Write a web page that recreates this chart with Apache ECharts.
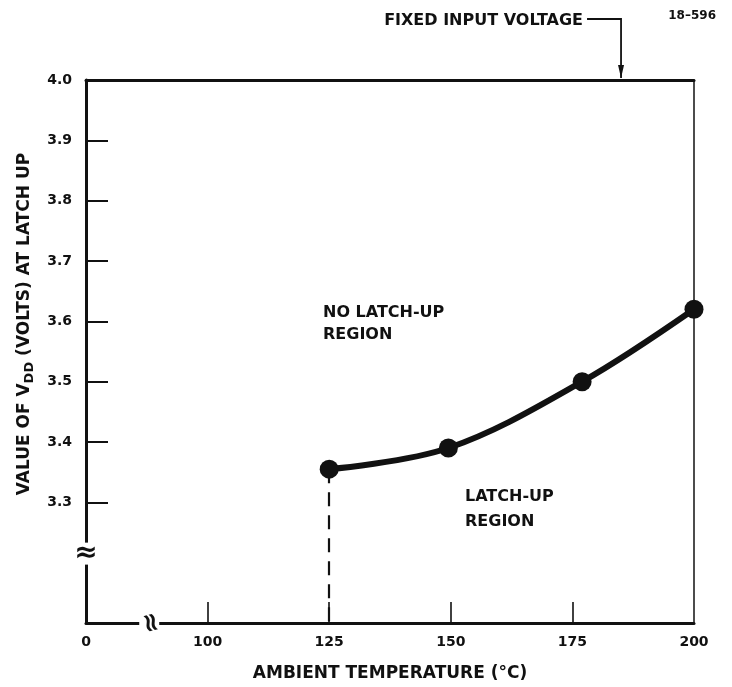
<!DOCTYPE html>
<html><head><meta charset="utf-8">
<script src="https://cdn.jsdelivr.net/npm/echarts@6/dist/echarts.min.js"></script>
<style>html,body{margin:0;padding:0;background:#fff}#c{width:732px;height:687px}</style>
</head><body><div id="c"></div>
<script>
// ---- data ----
const temperatureC = [125, 149.5, 177, 200];
const vddAtLatchUp = [3.355, 3.39, 3.50, 3.62];
const xLabelValues = [75, 100, 125, 150, 175, 200];
const xLabelTexts = ['0', '100', '125', '150', '175', '200'];
const xTickValues = [100, 125, 150, 175];
const yLabelValues = [3.3, 3.4, 3.5, 3.6, 3.7, 3.8, 3.9, 4.0];
const yTickValues = [3.3, 3.4, 3.5, 3.6, 3.7, 3.8, 3.9];
const xMin = 75, xMax = 200, yMin = 3.1, yMax = 4.0;
const yBreakAt = 3.215, xBreakAt = 88;
const fixedInputTemp = 185;

const INK = '#111';
const FONT = 'DejaVu Sans';
const F = (size, w) => (w || 'bold') + ' ' + size + 'px "' + FONT + '"';
const chart = echarts.init(document.getElementById('c'), null, {renderer: 'canvas'});
const hidden = {axisTick: {show: false}, axisLabel: {show: false}, splitLine: {show: false}};
chart.setOption({
  animation: false,
  backgroundColor: '#fff',
  grid: {left: 86, right: 38, top: 80, bottom: 64},
  xAxis: [{
    type: 'value', min: xMin, max: xMax, position: 'bottom',
    axisLine: {show: true, onZero: false, lineStyle: {color: INK, width: 3}},
    axisTick: {show: true, inside: true, length: 21, customValues: xTickValues, lineStyle: {color: INK, width: 1.6}},
    axisLabel: {customValues: xLabelValues, formatter: v => xLabelTexts[xLabelValues.indexOf(v)],
      color: INK, fontFamily: FONT, fontWeight: 'bold', fontSize: 14, margin: 12},
    splitLine: {show: false},
    name: 'AMBIENT TEMPERATURE (°C)', nameLocation: 'middle', nameGap: 42,
    nameTextStyle: {color: INK, fontFamily: FONT, fontWeight: 'bold', fontSize: 17}
  }, Object.assign({
    type: 'value', min: xMin, max: xMax, position: 'top',
    axisLine: {show: true, onZero: false, lineStyle: {color: INK, width: 3}}
  }, hidden)],
  yAxis: [{
    type: 'value', min: yMin, max: yMax, position: 'left',
    axisLine: {show: true, onZero: false, lineStyle: {color: INK, width: 3}},
    axisTick: {show: true, inside: true, length: 22, customValues: yTickValues, lineStyle: {color: INK, width: 2}},
    axisLabel: {customValues: yLabelValues, formatter: v => v.toFixed(1),
      color: INK, fontFamily: FONT, fontWeight: 'bold', fontSize: 14, margin: 14},
    splitLine: {show: false}
  }, Object.assign({
    type: 'value', min: yMin, max: yMax, position: 'right',
    axisLine: {show: true, onZero: false, lineStyle: {color: INK, width: 1.5}}
  }, hidden)],
  series: [{
    type: 'line', xAxisIndex: 0, yAxisIndex: 0,
    data: temperatureC.map((t, i) => [t, vddAtLatchUp[i]]),
    smooth: 0.35, symbol: 'circle', symbolSize: 19, z: 5,
    itemStyle: {color: INK}, lineStyle: {color: INK, width: 6},
    markLine: {
      silent: true, symbol: 'none', label: {show: false},
      lineStyle: {color: INK, width: 2.2, type: [14, 9]},
      data: [[{coord: [temperatureC[0], vddAtLatchUp[0]]}, {coord: [temperatureC[0], yMin]}]]
    }
  }]
});

const px = (x, y) => chart.convertToPixel({xAxisIndex: 0, yAxisIndex: 0}, [x, y]);
const yb = px(xMin, yBreakAt);
const xb = px(xBreakAt, yMin);
const topY = px(xMin, yMax)[1];
const ax = px(fixedInputTemp, yMax)[0];
const textStyle = (t, extra) => Object.assign({text: t, fill: INK, font: F(15)}, extra || {});

chart.setOption({graphic: [
  // y-axis break
  {type: 'rect', shape: {x: yb[0] - 6, y: yb[1] - 11, width: 12, height: 22}, style: {fill: '#fff'}, z: 20},
  {type: 'text', x: yb[0], y: yb[1], z: 21, style: textStyle('≈', {font: F(28), align: 'center', verticalAlign: 'middle'})},
  // x-axis break
  {type: 'rect', shape: {x: xb[0] - 10, y: xb[1] - 6, width: 20, height: 12}, style: {fill: '#fff'}, z: 20},
  {type: 'text', x: xb[0], y: xb[1], rotation: -Math.PI / 2.4, z: 21, style: textStyle('≈', {font: F(26), align: 'center', verticalAlign: 'middle'})},
  // fixed input voltage arrow
  {type: 'polyline', shape: {points: [[ax - 34, 19], [ax, 19], [ax, topY - 2]]}, style: {stroke: INK, lineWidth: 1.8, fill: null}, z: 10},
  {type: 'polygon', shape: {points: [[ax - 3, topY - 15], [ax + 3, topY - 15], [ax, topY - 2]]}, style: {fill: INK}, z: 10},
  {type: 'text', x: ax - 38, y: 21, style: textStyle('FIXED INPUT VOLTAGE', {font: F(16), align: 'right', verticalAlign: 'middle'})},
  {type: 'text', x: 716, y: 16, style: textStyle('18–596', {font: F(12), align: 'right', verticalAlign: 'middle'})},
  // region labels
  {type: 'text', x: 323, y: 302, style: textStyle('NO LATCH-UP\nREGION', {font: F(16), lineHeight: 22})},
  {type: 'text', x: 465, y: 484, style: textStyle('LATCH-UP\nREGION', {font: F(16), lineHeight: 25})},
  // y axis title
  {type: 'text', x: 25, y: 324, rotation: Math.PI / 2, style: {
    text: 'VALUE OF V{sub|DD} (VOLTS) AT LATCH UP', fill: INK, font: F(17),
    align: 'center', verticalAlign: 'middle',
    rich: {sub: {fontSize: 13, fontFamily: FONT, fontWeight: 'bold', fill: INK, padding: [10, 0, 0, 0]}}
  }}
]});
</script></body></html>
